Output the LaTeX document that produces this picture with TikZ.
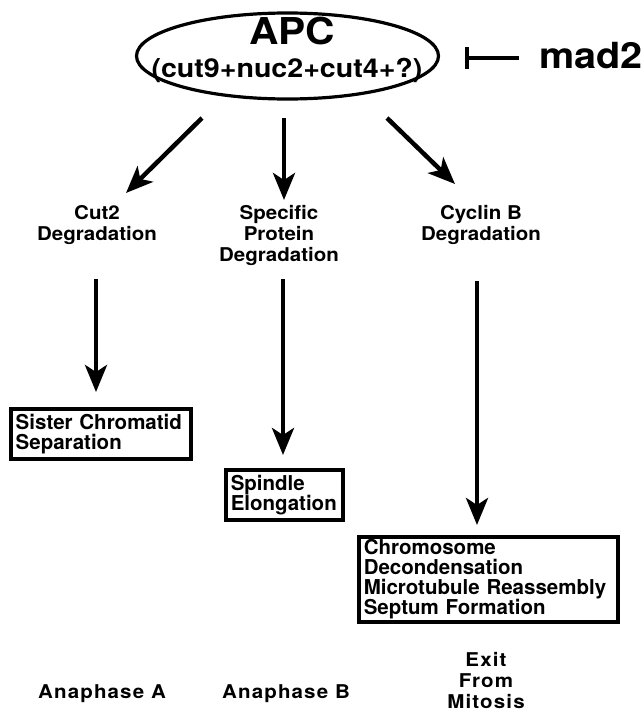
\documentclass[tikz,border=0pt]{standalone}
\usepackage{fontspec}
\setmainfont{TeX Gyre Heros}
\newfontfamily\labfont{TeX Gyre Heros}[FakeStretch=1.08]
\newfontfamily\botfont{TeX Gyre Heros}[FakeStretch=1.08,LetterSpace=6]
\newfontfamily\topfont{TeX Gyre Heros}[FakeStretch=1.1]
\usetikzlibrary{arrows.meta,shapes.geometric,calc}
\begin{document}
\begin{tikzpicture}[x=1pt,y=-1pt,
  arr/.style={line width=4.5pt,-{Stealth[length=27pt,width=22pt,inset=7pt]}},
  inh/.style={line width=4pt,-{Bar[width=22pt]}},
  lab/.style={font={\labfont\bfseries\fontsize{19}{21}\selectfont},align=center,inner sep=0pt,anchor=north},
  botlab/.style={font={\botfont\bfseries\fontsize{19}{21}\selectfont},align=center,inner sep=0pt},
  outbox/.style={draw,line width=3.5pt,anchor=north west,align=left,inner xsep=5pt,inner ysep=2pt,
    font={\bfseries\fontsize{20.5}{20}\selectfont}}
]
\useasboundingbox (0,0) rectangle (644,715);

% APC ellipse
\node[draw,ellipse,line width=3.2pt,minimum width=302pt,minimum height=86pt,inner sep=0pt] (apc) at (287.5,56) {};
\node[anchor=base,inner sep=0pt,font={\topfont\bfseries\fontsize{37}{37}\selectfont}] (apct) at (292,44) {APC};
\node[anchor=base,inner sep=0pt,font={\topfont\bfseries\fontsize{26}{26}\selectfont}] (cuts) at (287,77) {(cut9+nuc2+cut4+?)};

% mad2 inhibition
\node[anchor=base west,inner sep=0pt,font={\topfont\bfseries\fontsize{36}{36}\selectfont}] (mad) at (539,68) {mad2};
\coordinate (bar) at (465,58);
\draw[inh] ($(mad.west |- bar)+(-20,0)$) -- (bar);

% degradation labels
\node[lab] (cut2) at (97,205) {Cut2\\Degradation};
\node[lab] (spec) at (279,205) {Specific\\Protein\\Degradation};
\node[lab] (cyc) at (481,205) {Cyclin B\\Degradation};

% arrows from APC
\coordinate (s1) at (202,118); \coordinate (e1) at (126,193);
\coordinate (s2) at (284,118); \coordinate (e2) at (284,200);
\coordinate (s3) at (387,118); \coordinate (e3) at (455,184);
\draw[arr] (s1) -- (e1);
\draw[arr] (s2) -- (e2);
\draw[arr] (s3) -- (e3);

% outcome boxes
\node[outbox,text width=170pt,minimum height=50pt] (sis) at (9,407) {Sister Chromatid\\Separation};
\node[outbox,text width=107pt,minimum height=50pt] (spin) at (224,468) {Spindle\\Elongation};
\node[outbox,text width=249pt,minimum height=85pt] (chr) at (357,535) {Chromosome\\Decondensation\\Microtubule Reassembly\\Septum Formation};

% vertical arrows
\coordinate (s4) at (96,279);
\coordinate (s5) at (283,279);
\coordinate (s6) at (477,281);
\draw[arr,shorten >=15pt] (s4) -- (s4 |- sis.north);
\draw[arr,shorten >=13pt] (s5) -- (s5 |- spin.north);
\draw[arr,shorten >=10pt] (s6) -- (s6 |- chr.north);

% phase labels
\node[botlab,anchor=base] (anaA) at (102,698) {Anaphase A};
\node[botlab,anchor=base] (anaB) at (286,698) {Anaphase B};
\node[botlab,anchor=north] (exit) at (486,652) {Exit\\From\\Mitosis};
\end{tikzpicture}
\end{document}
